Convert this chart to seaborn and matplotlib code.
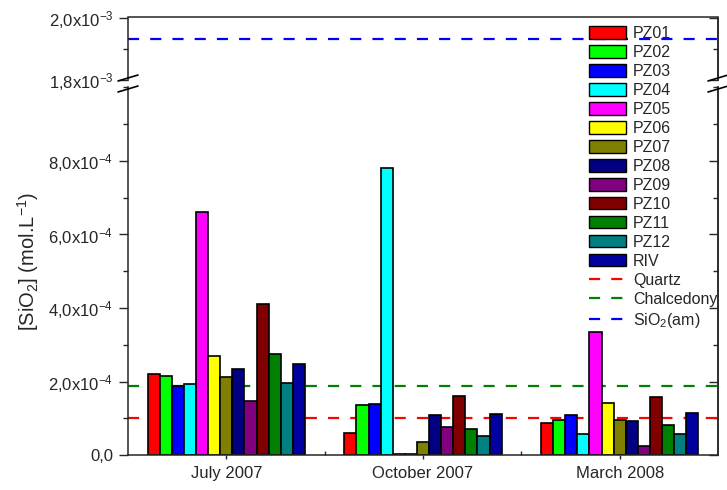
import numpy as np
import pandas as pd
import matplotlib
matplotlib.use("Agg")
import matplotlib.pyplot as plt
from matplotlib.patches import Patch
from matplotlib.lines import Line2D
from matplotlib.ticker import MultipleLocator
import seaborn as sns

# ---- data -------------------------------------------------------------
campaigns = ["July 2007", "October 2007", "March 2008"]
wells = ["PZ01", "PZ02", "PZ03", "PZ04", "PZ05", "PZ06", "PZ07",
         "PZ08", "PZ09", "PZ10", "PZ11", "PZ12", "RIV"]
# dissolved silica, mol/L
july_2007 = [2.20e-4, 2.15e-4, 1.89e-4, 1.93e-4, 6.62e-4, 2.70e-4, 2.11e-4,
             2.33e-4, 1.48e-4, 4.11e-4, 2.74e-4, 1.95e-4, 2.47e-4]
october_2007 = [0.59e-4, 1.35e-4, 1.38e-4, 7.80e-4, 0.04e-4, 0.03e-4, 0.35e-4,
                1.08e-4, 0.77e-4, 1.60e-4, 0.72e-4, 0.53e-4, 1.11e-4]
march_2008 = [0.86e-4, 0.94e-4, 1.08e-4, 0.57e-4, 3.34e-4, 1.42e-4, 0.94e-4,
              0.93e-4, 0.24e-4, 1.58e-4, 0.82e-4, 0.57e-4, 1.14e-4]
well_colors = ["#FF0000", "#00FF00", "#0000FF", "#00FFFF", "#FF00FF", "#FFFF00",
               "#808000", "#000080", "#800080", "#800000", "#008000", "#008080",
               "#0000A0"]

# solubility limits, mol/L
phase_names = ["Quartz", "Chalcedony", "SiO$_2$(am)"]
phase_values = [1.00e-4, 1.87e-4, 1.93e-3]
phase_colors = ["#FF0000", "#008000", "#0000FF"]

low_ticks = [0.0, 2e-4, 4e-4, 6e-4, 8e-4]
low_tick_labels = ["0,0", "2,0x10$^{-4}$", "4,0x10$^{-4}$",
                   "6,0x10$^{-4}$", "8,0x10$^{-4}$"]
high_ticks = [1.8e-3, 2.0e-3]
high_tick_labels = ["1,8x10$^{-3}$", "2,0x10$^{-3}$"]

df = pd.DataFrame({
    "campaign": np.repeat(campaigns, len(wells)),
    "well": wells * len(campaigns),
    "sio2": july_2007 + october_2007 + march_2008,
})

# ---- style ------------------------------------------------------------
sns.set_style("ticks")
plt.rcParams["font.family"] = ["Liberation Sans", "DejaVu Sans"]
plt.rcParams["mathtext.fontset"] = "custom"
plt.rcParams["mathtext.rm"] = "Liberation Sans"
plt.rcParams["mathtext.it"] = "Liberation Sans:italic"
plt.rcParams["mathtext.bf"] = "Liberation Sans:bold"
plt.rcParams["axes.linewidth"] = 1.1

W, H = 727, 490
fig = plt.figure(figsize=(W / 100, H / 100), dpi=100)

def fx(px):
    return px / W

def fy(py):
    return 1 - py / H

left, right = fx(128), fx(718)
ax_low = fig.add_axes([left, fy(455), right - left, fy(87.5) - fy(455)])
ax_high = fig.add_axes([left, fy(80), right - left, fy(17.5) - fy(80)],
                       sharex=ax_low)

sns.barplot(data=df, x="campaign", y="sio2", hue="well", hue_order=wells,
            palette=well_colors, edgecolor="black", linewidth=1.2,
            saturation=1, legend=False, ax=ax_low)

dash = (0, (5, 5))
for name, val, col in zip(phase_names, phase_values, phase_colors):
    target = ax_high if val > 1e-3 else ax_low
    target.axhline(val, color=col, lw=1.6, ls=dash, zorder=0.5)

# lower panel
ax_low.set_ylim(0, 1.0e-3)
ax_low.set_xlim(-0.5, 2.5)
ax_low.set_yticks(low_ticks)
ax_low.set_yticklabels(low_tick_labels, fontsize=12)
ax_low.yaxis.set_minor_locator(MultipleLocator(1e-4))
ax_low.set_xlabel("")
ax_low.set_ylabel("")
ax_low.tick_params(axis="x", labelsize=12, length=3, width=1, direction="out", pad=5)
ax_low.set_xticks([0.5, 1.5], minor=True)
ax_low.tick_params(axis="x", which="minor", length=3, width=1, direction="in")
ax_low.tick_params(axis="y", which="major", length=6.5, width=1, direction="out", pad=4)
ax_low.tick_params(axis="y", which="minor", length=3.6, width=1, direction="out")
ax_low.spines["top"].set_visible(False)

# upper panel
ax_high.set_ylim(1.8e-3, 2.0e-3)
ax_high.set_yticks(high_ticks)
ax_high.set_yticklabels(high_tick_labels, fontsize=12)
ax_high.yaxis.set_minor_locator(MultipleLocator(1e-4))
ax_high.tick_params(axis="y", which="major", length=6.5, width=1, direction="out", pad=4)
ax_high.tick_params(axis="y", which="minor", length=3.6, width=1, direction="out")
ax_high.tick_params(axis="x", which="both", bottom=False, labelbottom=False)
ax_high.spines["bottom"].set_visible(False)

# inward ticks on the right-hand frame
for ax, ticks in ((ax_low, low_ticks), (ax_high, high_ticks)):
    sec = ax.secondary_yaxis("right")
    sec.set_yticks(ticks)
    sec.set_yticklabels([])
    sec.yaxis.set_minor_locator(MultipleLocator(1e-4))
    sec.tick_params(which="major", length=6.5, width=1, direction="in")
    sec.tick_params(which="minor", length=3.6, width=1, direction="in")
    sec.spines["right"].set_linewidth(1.1)

# axis-break marks on both spines
for xc in (128, 718):
    for y0 in (78, 89):
        fig.add_artist(Line2D([fx(xc - 10), fx(xc + 10)], [fy(y0 + 3), fy(y0 - 3)],
                              color="black", lw=1.2, transform=fig.transFigure))

fig.text(fx(28), fy(262), "[SiO$_2$] (mol.L$^{-1}$)", rotation=90,
         ha="center", va="center", fontsize=14.5)

# legend
handles = [Patch(facecolor=c, edgecolor="black", linewidth=1.0) for c in well_colors]
handles += [Line2D([], [], color=c, lw=1.6, ls=dash) for c in phase_colors]
labels = wells + phase_names
fig.legend(handles, labels, loc="upper left", bbox_to_anchor=(fx(589), fy(26)),
           frameon=False, fontsize=11.5, handlelength=2.3, handleheight=0.8,
           handletextpad=0.45, labelspacing=0.25, borderpad=0, borderaxespad=0)

fig.savefig("out.png", dpi=100)
